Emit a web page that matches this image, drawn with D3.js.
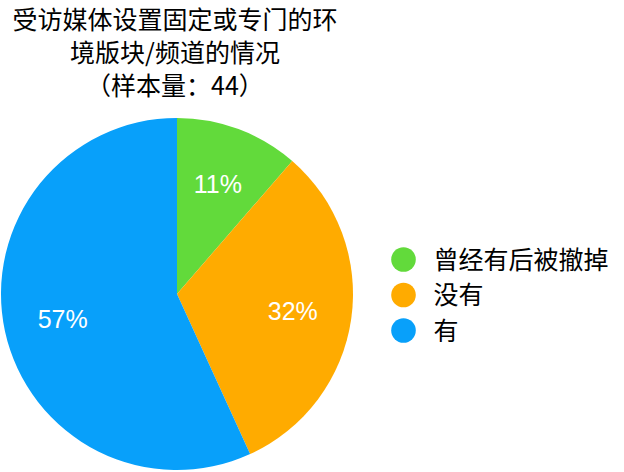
<!DOCTYPE html>
<html><head><meta charset="utf-8">
<script src="https://cdn.jsdelivr.net/npm/d3@7"></script>
<style>html,body{margin:0;padding:0;background:#fff;}</style>
</head><body>
<script>
const titleLines = ["受访媒体设置固定或专门的环", "境版块/频道的情况", "（样本量：44）"];
const categories = ["曾经有后被撤掉", "没有", "有"];
const values = [5, 14, 25];
const labels = ["11%", "32%", "57%"];
const colors = ["#62da3b", "#ffab00", "#08a0fa"];

const W = 624, H = 472;
const svg = d3.select("body").append("svg").attr("width", W).attr("height", H);
const font = "'Noto Sans CJK SC', 'Noto Sans', sans-serif";

svg.selectAll("text.title").data(titleLines).enter().append("text")
  .attr("x", 175).attr("y", (d, i) => 29 + i * 33)
  .attr("text-anchor", "middle").attr("font-family", font).attr("font-size", 25)
  .attr("fill", "#000").text(d => d);

const cx = 177, cy = 294, r = 176;
const pie = d3.pie().sort(null).value(d => d)(values);
const arc = d3.arc().innerRadius(0).outerRadius(r);
const labelArc = d3.arc().innerRadius(117).outerRadius(117);
const g = svg.append("g").attr("transform", `translate(${cx},${cy})`);
g.selectAll("path").data(pie).enter().append("path")
  .attr("d", arc).attr("fill", (d, i) => colors[i]);
g.selectAll("text").data(pie).enter().append("text")
  .attr("transform", d => `translate(${labelArc.centroid(d)})`)
  .attr("text-anchor", "middle").attr("dy", "0.36em")
  .attr("font-family", "'Liberation Sans', Arial, sans-serif").attr("font-size", 25)
  .attr("fill", "#fff").text((d, i) => labels[i]);

const leg = svg.append("g");
const items = leg.selectAll("g").data(categories).enter().append("g")
  .attr("transform", (d, i) => `translate(403.5, ${259.5 + i * 35.5})`);
items.append("circle").attr("r", 12.3).attr("fill", (d, i) => colors[i]);
items.append("text").attr("x", 30).attr("dy", "0.36em")
  .attr("font-family", font).attr("font-size", 25).attr("fill", "#000").text(d => d);
</script>
</body></html>
